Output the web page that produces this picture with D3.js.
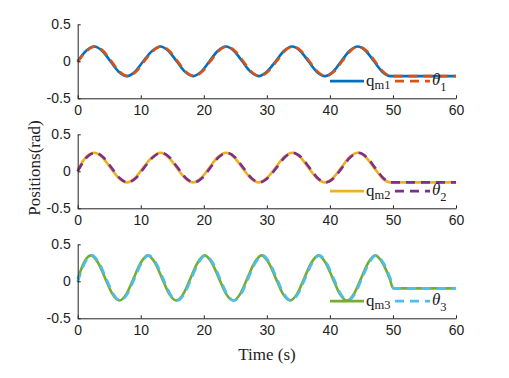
<!DOCTYPE html>
<html>
<head>
<meta charset="utf-8">
<script src="https://cdn.jsdelivr.net/npm/d3@7"></script>
<style>
  body { margin: 0; background: #fff; }
  svg { display: block; }
</style>
</head>
<body>
<svg id="chart" width="509" height="378"></svg>
<script>
"use strict";

// time (s) and positions (rad)
var tA = [0, 1.3, 2.6, 3.9, 5.2, 6.5, 7.8, 9.1, 10.4, 11.8, 13.1, 14.4, 15.7, 17.0, 18.3, 19.6, 20.9, 22.2, 23.5, 24.8, 26.1, 27.4, 28.7, 30.0, 31.4, 32.7, 34.0, 35.3, 36.6, 37.9, 39.2, 40.5, 41.8, 43.1, 44.4, 45.7, 47.0, 48.3, 49.6, 55, 60];
var tB = [0, 1.45, 2.75, 4.05, 5.35, 6.65, 7.95, 9.25, 10.55, 11.95, 13.25, 14.55, 15.85, 17.15, 18.45, 19.75, 21.05, 22.35, 23.65, 24.95, 26.25, 27.55, 28.85, 30.15, 31.55, 32.85, 34.15, 35.45, 36.75, 38.05, 39.35, 40.65, 41.95, 43.25, 44.55, 45.85, 47.15, 48.45, 49.7, 55, 60];
var qm1 = [0, 0.14, 0.2, 0.14, 0, -0.14, -0.2, -0.14, 0, 0.14, 0.2, 0.14, 0, -0.14, -0.2, -0.14, 0, 0.14, 0.2, 0.14, 0, -0.14, -0.2, -0.14, 0, 0.14, 0.2, 0.14, 0, -0.14, -0.2, -0.14, 0, 0.14, 0.2, 0.14, 0, -0.14, -0.2, -0.2, -0.2];
var theta1 = [-0.01, 0.14, 0.2, 0.14, 0, -0.14, -0.2, -0.14, 0, 0.14, 0.2, 0.14, 0, -0.14, -0.2, -0.14, 0, 0.14, 0.2, 0.14, 0, -0.14, -0.2, -0.14, 0, 0.14, 0.2, 0.14, 0, -0.14, -0.2, -0.14, 0, 0.14, 0.2, 0.14, 0, -0.14, -0.2, -0.2, -0.2];
var qm2 = [0.02, 0.19, 0.25, 0.19, 0.05, -0.09, -0.15, -0.09, 0.05, 0.19, 0.25, 0.19, 0.05, -0.09, -0.15, -0.09, 0.05, 0.19, 0.25, 0.19, 0.05, -0.09, -0.15, -0.09, 0.05, 0.19, 0.25, 0.19, 0.05, -0.09, -0.15, -0.09, 0.05, 0.19, 0.25, 0.19, 0.05, -0.09, -0.15, -0.15, -0.15];
var theta2 = [0.0, 0.19, 0.25, 0.19, 0.05, -0.09, -0.15, -0.09, 0.05, 0.19, 0.25, 0.19, 0.05, -0.09, -0.15, -0.09, 0.05, 0.19, 0.25, 0.19, 0.05, -0.09, -0.15, -0.09, 0.05, 0.19, 0.25, 0.19, 0.05, -0.09, -0.15, -0.09, 0.05, 0.19, 0.25, 0.19, 0.05, -0.09, -0.15, -0.15, -0.15];
var tC = [0, 0.98, 2.1, 3.23, 4.36, 5.49, 6.61, 7.74, 8.87, 10.0, 11.12, 12.25, 13.38, 14.51, 15.63, 16.76, 17.89, 19.02, 20.14, 21.27, 22.4, 23.53, 24.65, 25.78, 26.91, 28.04, 29.16, 30.29, 31.42, 32.55, 33.67, 34.8, 35.93, 37.06, 38.18, 39.31, 40.44, 41.57, 42.69, 43.82, 44.95, 46.08, 47.2, 48.33, 49.46, 50.05, 55, 60];
var tD = [0, 1.13, 2.25, 3.38, 4.51, 5.64, 6.76, 7.89, 9.02, 10.15, 11.27, 12.4, 13.53, 14.66, 15.78, 16.91, 18.04, 19.17, 20.29, 21.42, 22.55, 23.68, 24.8, 25.93, 27.06, 28.19, 29.31, 30.44, 31.57, 32.7, 33.82, 34.95, 36.08, 37.21, 38.33, 39.46, 40.59, 41.72, 42.84, 43.97, 45.1, 46.23, 47.35, 48.48, 49.55, 50.15, 55, 60];
var qm3 = [0.03, 0.25, 0.35, 0.25, 0.04, -0.17, -0.26, -0.17, 0.04, 0.25, 0.35, 0.25, 0.04, -0.17, -0.26, -0.17, 0.04, 0.25, 0.35, 0.25, 0.04, -0.17, -0.26, -0.17, 0.04, 0.25, 0.35, 0.25, 0.04, -0.17, -0.26, -0.17, 0.04, 0.25, 0.35, 0.25, 0.04, -0.17, -0.26, -0.17, 0.04, 0.25, 0.35, 0.25, 0.04, -0.095, -0.095, -0.095];
var theta3 = [-0.01, 0.25, 0.35, 0.25, 0.04, -0.17, -0.26, -0.17, 0.04, 0.25, 0.35, 0.25, 0.04, -0.17, -0.26, -0.17, 0.04, 0.25, 0.35, 0.25, 0.04, -0.17, -0.26, -0.17, 0.04, 0.25, 0.35, 0.25, 0.04, -0.17, -0.26, -0.17, 0.04, 0.25, 0.35, 0.25, 0.04, -0.17, -0.26, -0.17, 0.04, 0.25, 0.35, 0.25, 0.05, -0.095, -0.095, -0.095];

var xTicks = [0, 10, 20, 30, 40, 50, 60];
var yTicks = [-0.5, 0, 0.5];
var jointLabels = ["1", "2", "3"];

var panels = [
  { top: 24.3, q: { t: tA, v: qm1, color: "#0072BD" }, th: { t: tB, v: theta1, color: "#D95319" } },
  { top: 134.3, q: { t: tA, v: qm2, color: "#EDB120" }, th: { t: tB, v: theta2, color: "#7E2F8E" } },
  { top: 244.3, q: { t: tC, v: qm3, color: "#77AC30" }, th: { t: tD, v: theta3, color: "#4DBEEE" } }
];

var svg = d3.select("#chart");
var left = 77.7, right = 456, ph = 74;

var x = d3.scaleLinear().domain([0, 60]).range([left, right]);

// matlab style labels: plain hyphen, "0" not "0.0"
function fmt(d) { return String(d) }

function drawPanel(p, i) {
  var y = d3.scaleLinear().domain([-0.5, 0.5]).range([p.top + ph, p.top]);
  var g = svg.append("g");

  var line = function(s) {
    return d3.line()
      .x(function(d, k){ return x(s.t[k]) })
      .y(function(d){ return y(d) })
      .curve(d3.curveMonotoneX)(s.v);
  };

  g.append("path")
    .attr("d", line(p.q))
    .attr("fill", "none")
    .attr("stroke", p.q.color)
    .attr("stroke-width", 2.6);

  g.append("path")
    .attr("d", line(p.th))
    .attr("fill", "none")
    .attr("stroke", p.th.color)
    .attr("stroke-width", 2.6)
    .attr("stroke-dasharray", "9,6");

  // axes, ticks inward
  var xa = g.append("g")
    .attr("transform", "translate(0," + (p.top + ph) + ")")
    .call(d3.axisBottom(x).tickValues(xTicks).tickFormat(fmt).tickSizeInner(-3).tickSizeOuter(0).tickPadding(7));
  var ya = g.append("g")
    .attr("transform", "translate(" + left + ",0)")
    .call(d3.axisLeft(y).tickValues(yTicks).tickFormat(fmt).tickSizeInner(-3).tickSizeOuter(0).tickPadding(7));

  [xa, ya].forEach(function(a){
    a.attr("font-family", null).attr("font-size", null);
    a.select(".domain").attr("stroke", "#222").attr("stroke-width", 1);
    a.selectAll(".tick line").attr("stroke", "#222");
    a.selectAll("text")
      .attr("fill", "#222")
      .attr("font-family", "Liberation Sans, Arial, sans-serif")
      .attr("font-size", "14px");
  });

  // legend
  var ly = p.top + 56.8;
  g.append("line")
    .attr("x1", 330).attr("x2", 364).attr("y1", ly).attr("y2", ly)
    .attr("stroke", p.q.color).attr("stroke-width", 2.6);
  g.append("line")
    .attr("x1", 395).attr("x2", 430).attr("y1", ly).attr("y2", ly)
    .attr("stroke", p.th.color).attr("stroke-width", 2.6)
    .attr("stroke-dasharray", "9,6");

  var qt = g.append("text")
    .attr("x", 366).attr("y", ly + 4.5)
    .attr("font-family", "Liberation Serif, Times New Roman, serif")
    .attr("font-size", "17px")
    .attr("fill", "#222");
  qt.append("tspan").text("q");
  qt.append("tspan").attr("dy", 3.5).attr("font-size", "12.5px").text("m" + jointLabels[i]);

  var tt = g.append("text")
    .attr("x", 432).attr("y", ly + 4)
    .attr("font-family", "Liberation Serif, Times New Roman, serif")
    .attr("font-size", "17px")
    .attr("fill", "#222");
  tt.append("tspan").attr("font-style", "italic").text("\u03b8");
  tt.append("tspan").attr("dy", 6).attr("font-size", "12.5px").text(jointLabels[i]);
}

panels.forEach(drawPanel);

svg.append("text")
  .attr("transform", "translate(40,168) rotate(-90)")
  .attr("text-anchor", "middle")
  .attr("font-family", "Liberation Serif, Times New Roman, serif")
  .attr("font-size", "17px")
  .attr("fill", "#222")
  .text("Positions(rad)");

svg.append("text")
  .attr("x", 267).attr("y", 360)
  .attr("text-anchor", "middle")
  .attr("font-family", "Liberation Serif, Times New Roman, serif")
  .attr("font-size", "17px")
  .attr("fill", "#222")
  .text("Time (s)");
</script>
</body>
</html>
